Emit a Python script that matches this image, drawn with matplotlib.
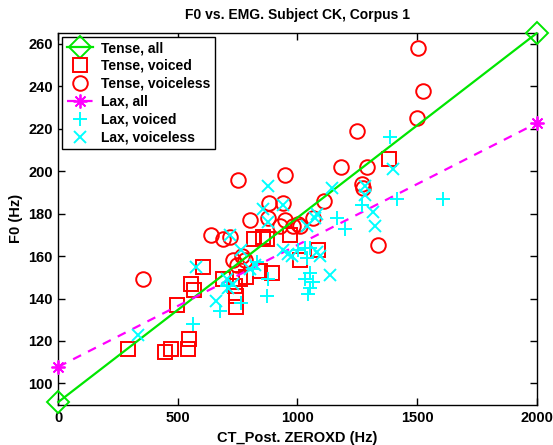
import matplotlib
matplotlib.use("Agg")
import matplotlib.pyplot as plt
import numpy as np

# ---- data ----
tense_all_x = [0, 2000]
tense_all_y = [91.2, 265.0]
lax_all_x = [0, 2000]
lax_all_y = [107.8, 222.6]

tense_voiced_x = [293, 446, 470, 541, 546, 496, 555, 569, 606, 690, 739, 745, 743, 760, 785,
                  843, 892, 820, 857, 871, 969, 1011, 1087, 1384]
tense_voiced_y = [116, 115, 116, 116, 121, 137, 147, 144, 155, 149, 146, 141, 136, 149, 150,
                  153, 152, 168, 169, 168, 170, 158, 163, 206]

tense_voiceless_x = [1504, 1526, 1499, 1248, 1181, 1292, 948, 750, 1269, 1276, 1111, 881, 940,
                     802, 877, 948, 1002, 1011, 1066, 1338, 355, 637, 690, 718, 732, 767, 781,
                     746, 927, 983]
tense_voiceless_y = [258, 238, 225, 219, 202, 202, 198, 196, 194, 192, 186, 185, 185,
                     177, 178, 177, 175, 174, 178, 165, 149, 170, 168, 169, 158, 160, 158,
                     156, 174, 174]

lax_voiced_x = [1387, 1415, 1610, 1269, 1164, 1199, 1004, 1032, 1053, 1039, 1053, 1032, 1066,
                1053, 1046, 878, 871, 830, 565, 678, 764, 816, 704]
lax_voiced_y = [216, 187, 187, 184, 178, 173, 163, 164, 164, 159, 152, 149, 148,
                145, 142, 149, 141, 157, 128, 134, 138, 154, 146]

lax_voiceless_x = [1401, 1283, 1283, 1143, 878, 938, 857, 878, 1081, 1074, 1317, 1324, 1039,
                   941, 962, 976, 1081, 1094, 1136, 802, 823, 332, 578, 661, 720, 763, 704,
                   732, 710]
lax_voiceless_y = [201, 193, 189, 192, 193, 184, 182, 176, 180, 178, 181, 174, 174,
                   163, 161, 160, 162, 160, 151, 154, 156, 123, 155, 139, 170, 163, 149,
                   147, 145]

x_ticks = [0, 500, 1000, 1500, 2000]
y_ticks = [100, 120, 140, 160, 180, 200, 220, 240, 260]

plt.rcParams['font.family'] = ['Liberation Sans', 'DejaVu Sans']
plt.rcParams['font.weight'] = 'bold'

fig = plt.figure(figsize=(5.53, 4.45), dpi=100)
ax = fig.add_axes([0.1054, 0.0899, 0.9702 - 0.1054, 0.9265 - 0.0899])

GREEN = (0.0, 0.9, 0.0)
RED = (1.0, 0.0, 0.0)
MAG = (1.0, 0.0, 1.0)
CYAN = (0.0, 1.0, 1.0)

h1, = ax.plot(tense_all_x, tense_all_y, '-', color=GREEN, lw=1.6, marker='D',
              ms=11, mfc='none', mec=GREEN, mew=1.4, zorder=3, clip_on=False)
h2, = ax.plot(tense_voiced_x, tense_voiced_y, 's', color=RED, ms=9.5, mfc='none',
              mec=RED, mew=1.4, zorder=2)
h3, = ax.plot(tense_voiceless_x, tense_voiceless_y, 'o', color=RED, ms=10.5, mfc='none',
              mec=RED, mew=1.4, zorder=2)
h4, = ax.plot(lax_all_x, lax_all_y, '--', color=MAG, lw=1.6, marker=(8, 2, 0),
              ms=10, mec=MAG, mew=1.3, zorder=3, clip_on=False, dashes=(4, 3.5))
h5, = ax.plot(lax_voiced_x, lax_voiced_y, '+', color=CYAN, ms=10.5, mew=1.4, zorder=4)
h6, = ax.plot(lax_voiceless_x, lax_voiceless_y, 'x', color=CYAN, ms=8.5, mew=1.4, zorder=4)

ax.set_xlim(0, 2000)
ax.set_ylim(89.8, 265.3)
ax.set_xticks(x_ticks)
ax.set_yticks(y_ticks)
ax.tick_params(direction='in', length=5, width=1.0, top=True, right=True,
               labelsize=10.5, pad=4)
for lab in ax.get_xticklabels() + ax.get_yticklabels():
    lab.set_fontweight('bold')
for s in ax.spines.values():
    s.set_linewidth(1.0)

ax.set_title('F0 vs. EMG. Subject CK, Corpus 1', fontsize=10, fontweight='bold', pad=10)
ax.set_xlabel('CT_Post. ZEROXD (Hz)', fontsize=10.5, fontweight='bold', labelpad=5)
ax.set_ylabel('F0 (Hz)', fontsize=10.5, fontweight='bold', labelpad=4)

leg = ax.legend([h1, h2, h3, h4, h5, h6],
                ['Tense, all', 'Tense, voiced', 'Tense, voiceless', 'Lax, all',
                 'Lax, voiced', 'Lax, voiceless'],
                loc='upper left', prop={'weight': 'bold', 'size': 10},
                frameon=True, fancybox=False, edgecolor='black', framealpha=1,
                borderaxespad=0.3, handlelength=1.9, handletextpad=0.6,
                labelspacing=0.28, borderpad=0.3, numpoints=1)
leg.get_frame().set_linewidth(1.0)
leg.set_zorder(10)

fig.savefig('out.png', dpi=100)
